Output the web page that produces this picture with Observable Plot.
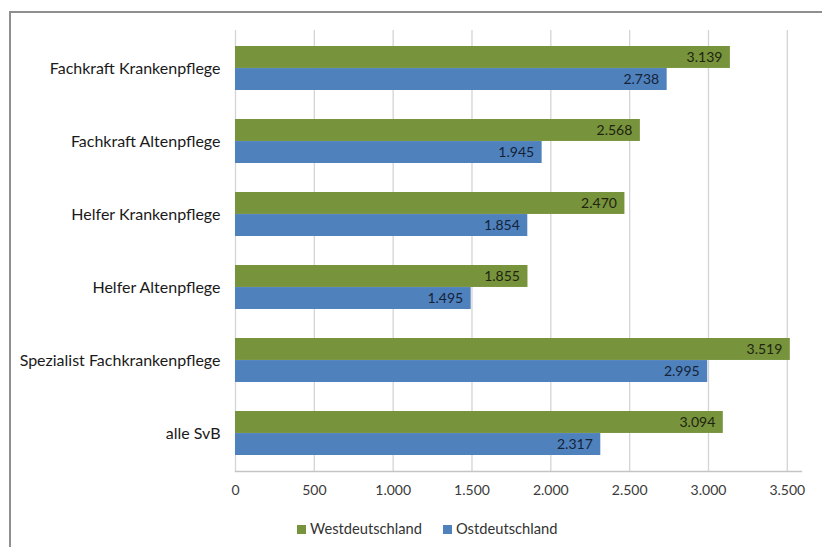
<!DOCTYPE html>
<html>
<head>
<meta charset="utf-8">
<script src="https://cdn.jsdelivr.net/npm/d3@7"></script>
<script src="https://cdn.jsdelivr.net/npm/@observablehq/plot@0.6"></script>
<style>
  html, body { margin: 0; padding: 0; background: #fff; overflow: hidden; }
  body { width: 822px; height: 547px; position: relative; font-family: Lato, "Open Sans", sans-serif; }
  #frame { position: absolute; left: 9px; top: 11px; width: 900px; height: 600px; border: 2px solid #8f8f8f; box-sizing: border-box; pointer-events: none; }
  #chart { position: absolute; left: 0; top: 0; }
  #legend { position: absolute; left: 297px; top: 519px; font-size: 14.7px; line-height: 18px; color: #333; display: flex; gap: 21px; }
  #legend span.sw { display: inline-block; width: 9px; height: 9px; margin-right: 4px; vertical-align: 0px; }
</style>
</head>
<body>
<div id="chart"></div>
<div id="legend"></div>
<div id="frame"></div>
<script>
const categories = ["Fachkraft Krankenpflege", "Fachkraft Altenpflege", "Helfer Krankenpflege", "Helfer Altenpflege", "Spezialist Fachkrankenpflege", "alle SvB"];
const series = ["Westdeutschland", "Ostdeutschland"];
const west = [3139, 2568, 2470, 1855, 3519, 3094];
const east = [2738, 1945, 1854, 1495, 2995, 2317];
const xTicks = [0, 500, 1000, 1500, 2000, 2500, 3000, 3500];
const colors = ["#77933c", "#4f81bd"];

const de = d3.formatLocale({decimal: ",", thousands: ".", grouping: [3], currency: ["", " €"]});
const fmt = de.format(",d");

const westData = categories.map((c, i) => ({category: c, series: series[0], value: west[i]}));
const eastData = categories.map((c, i) => ({category: c, series: series[1], value: east[i]}));

const chart = Plot.plot({
  width: 822,
  height: 510,
  marginLeft: 235,
  marginRight: 21,
  marginTop: 30,
  marginBottom: 39,
  style: {background: "transparent", fontFamily: "Lato, 'Open Sans', sans-serif", overflow: "visible"},
  x: {domain: [0, 3590], axis: null},
  y: {domain: categories, paddingInner: 0.4, paddingOuter: 0.2, axis: null},
  color: {domain: series, range: colors},
  marks: [
    Plot.ruleX(xTicks, {x: d => d, stroke: "#d4d4d4", strokeWidth: 1.3}),
    Plot.frame({anchor: "bottom", stroke: "#c4c4c4", strokeWidth: 1.3}),
    Plot.axisX(xTicks, {tickSize: 0, tickPadding: 14, tickFormat: fmt, fontSize: 14, fill: "#3a3a3a", label: null}),
    Plot.axisY({tickSize: 0, tickPadding: 15, fontSize: 16, fill: "#1a1a1a", label: null}),
    Plot.barX(westData, {x: "value", y: "category", fill: "series", insetBottom: 22.05, insetTop: 0}),
    Plot.barX(eastData, {x: "value", y: "category", fill: "series", insetTop: 22.05, insetBottom: 0}),
    Plot.text(westData, {x: "value", y: "category", text: d => fmt(d.value), dy: -11, dx: -8, textAnchor: "end", fontSize: 14, fill: "#1e2410"}),
    Plot.text(eastData, {x: "value", y: "category", text: d => fmt(d.value), dy: 11, dx: -8, textAnchor: "end", fontSize: 14, fill: "#142338"})
  ]
});
document.getElementById("chart").appendChild(chart);

const legend = document.getElementById("legend");
series.forEach((s, i) => {
  const item = document.createElement("div");
  const sw = document.createElement("span");
  sw.className = "sw";
  sw.style.background = colors[i];
  item.appendChild(sw);
  item.appendChild(document.createTextNode(s));
  legend.appendChild(item);
});
</script>
</body>
</html>
